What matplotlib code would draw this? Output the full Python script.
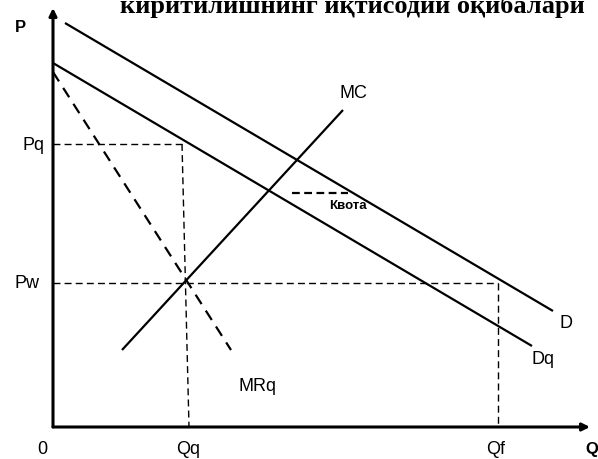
import matplotlib
matplotlib.use("Agg")
import matplotlib.pyplot as plt

# Data (units: Q to the right, P upward, origin at axes corner)
d_q = [12, 500];   d_p = [404, 116]
dq_q = [0, 479];   dq_p = [364, 81]
mc_q = [69, 290];  mc_p = [77, 317]
mr_q = [0, 178];   mr_p = [355, 77]
Pq = 283
Pw = 144
Qq_top, Qq_bot = 129, 136
Qf = 445
kvota_q = [239, 295]; kvota_p = [234, 234]

plt.rcParams['font.family'] = ['Liberation Sans', 'DejaVu Sans']

fig = plt.figure(figsize=(5.98, 4.60), dpi=100)
ax = fig.add_axes([0, 0, 1, 1])
ax.set_xlim(-53, 545)
ax.set_ylim(-32, 428)
ax.axis('off')

# axes with arrows
ax.annotate('', xy=(0, 419), xytext=(0, 0),
            arrowprops=dict(arrowstyle='-|>', lw=2.2, color='black', mutation_scale=11, shrinkA=0, shrinkB=0))
ax.annotate('', xy=(537, 0), xytext=(0, 0),
            arrowprops=dict(arrowstyle='-|>', lw=2.2, color='black', mutation_scale=11, shrinkA=0, shrinkB=0))

# curves
ax.plot(d_q, d_p, color='black', lw=1.6, solid_capstyle='butt')
ax.plot(dq_q, dq_p, color='black', lw=1.6, solid_capstyle='butt')
ax.plot(mc_q, mc_p, color='black', lw=1.6, solid_capstyle='butt')
ax.plot(mr_q, mr_p, color='black', lw=1.6, dashes=(5, 3.5))

# guide lines
ax.plot([0, Qq_top], [Pq, Pq], color='black', lw=1.0, dashes=(5, 3))
ax.plot([Qq_top, Qq_bot], [Pq, 0], color='black', lw=1.0, dashes=(5, 3))
ax.plot([0, Qf], [Pw, Pw], color='black', lw=1.0, dashes=(5, 3))
ax.plot([Qf, Qf], [Pw, 0], color='black', lw=1.0, dashes=(5, 3))
ax.plot(kvota_q, kvota_p, color='black', lw=1.6, dashes=(3.5, 2))

fs = 13
ax.text(-33, 401, 'P', fontsize=12, fontweight='bold', ha='center', va='center')
ax.text(539, -22, 'Q', fontsize=12, fontweight='bold', ha='center', va='center')
ax.text(-11, -22, '0', fontsize=fs, ha='center', va='center')
ax.text(135, -22, 'Qq', fontsize=fs, ha='center', va='center')
ax.text(443, -22, 'Qf', fontsize=fs, ha='center', va='center')
ax.text(-20, Pq, 'Pq', fontsize=fs, ha='center', va='center')
ax.text(-26, Pw, 'Pw', fontsize=fs, ha='center', va='center')
ax.text(300, 335, 'MC', fontsize=fs, ha='center', va='center')
ax.text(513, 105, 'D', fontsize=fs, ha='center', va='center')
ax.text(490, 68, 'Dq', fontsize=fs, ha='center', va='center')
ax.text(204, 41, 'MRq', fontsize=fs, ha='center', va='center')
ax.text(295, 222, 'Квота', fontsize=9.5, fontweight='bold', ha='center', va='center')

fig.text(0.589, 1.0 - 6 / 460, 'киритилишнинг иқтисодий оқибалари',
         fontsize=19, fontweight='bold', family=['Liberation Serif', 'DejaVu Serif'],
         ha='center', va='center')

fig.savefig('out.png', dpi=100)
